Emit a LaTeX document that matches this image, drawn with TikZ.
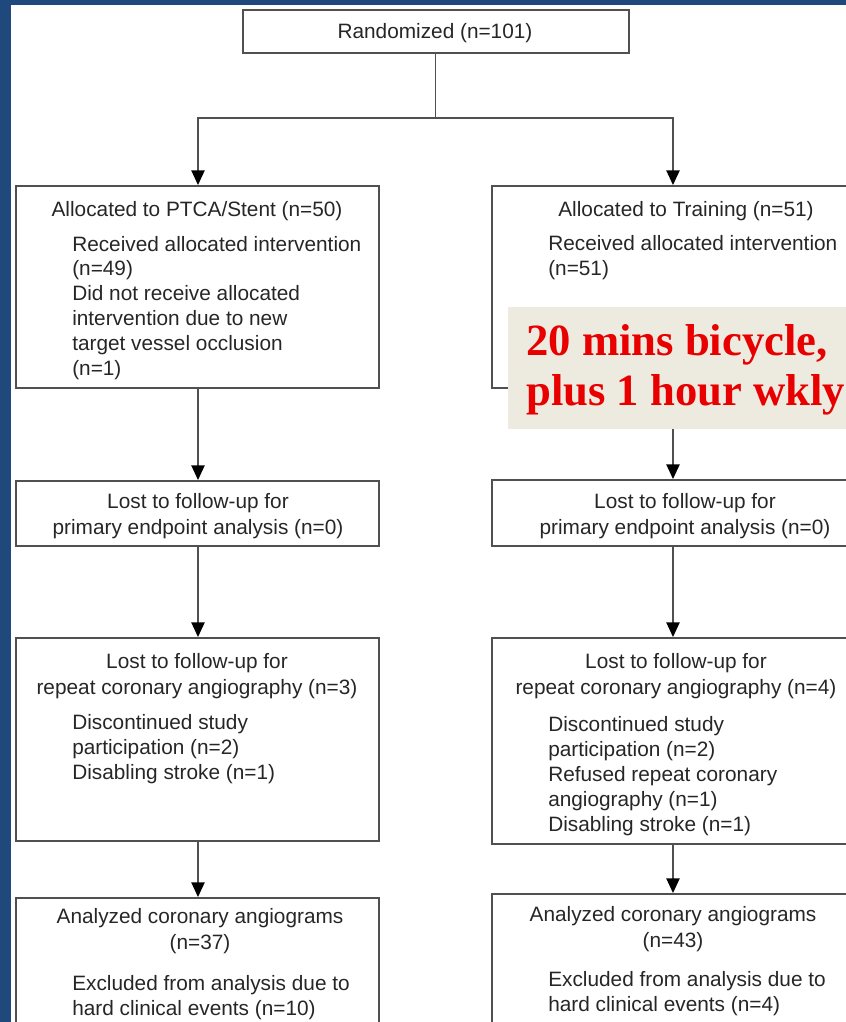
\documentclass[tikz,border=0pt]{standalone}
\usepackage{fontspec}
\setmainfont{Liberation Sans}
\newfontfamily\notefont{Liberation Serif}
\usetikzlibrary{arrows.meta}
\definecolor{frameblue}{RGB}{31,73,125}
\definecolor{boxgray}{RGB}{80,80,80}
\definecolor{notebg}{RGB}{237,234,224}
\definecolor{notered}{RGB}{232,0,0}

\begin{document}
\begin{tikzpicture}[x=0.75pt, y=-0.75pt,
  box/.style={draw=boxgray, line width=1.2pt, inner sep=0pt, anchor=north west},
  head/.style={inner sep=0pt, font=\fontsize{15.6}{19.5}\selectfont, text=black!85, align=center, anchor=base},
  item/.style={inner sep=0pt, font=\fontsize{15.6}{18.6}\selectfont, text=black!85, align=left, anchor=base west},
  link/.style={draw=boxgray, line width=1pt},
  arr/.style={link, -{Triangle[length=11pt,width=10pt,color=black]}}]
\useasboundingbox (0,0) rectangle (846,1022);
\clip (0,0) rectangle (846,1022);
%%%%% Frame %%%%%
\fill[frameblue] (0,0) rectangle (11,1022);
\fill[frameblue] (0,0) rectangle (846,5);
\coordinate (lcol) at (198,0);
\coordinate (rcol) at (673,0);
%%%%% Boxes %%%%%
\node[box, minimum width=289.5pt, minimum height=32.25pt] (top) at (242,9) {};
\node[box, minimum width=272.25pt, minimum height=151.5pt] (l1) at (15,185) {};
\node[box, minimum width=272.25pt, minimum height=48.75pt] (l2) at (15,480) {};
\node[box, minimum width=272.25pt, minimum height=152.25pt] (l3) at (15,637) {};
\node[box, minimum width=272.25pt, minimum height=105pt] (l4) at (15,897) {};
\node[box, minimum width=291.75pt, minimum height=151.5pt] (r1) at (491,185) {};
\node[box, minimum width=291.75pt, minimum height=49.5pt] (r2) at (491,479) {};
\node[box, minimum width=291.75pt, minimum height=154.5pt] (r3) at (491,637) {};
\node[box, minimum width=291.75pt, minimum height=105pt] (r4) at (491,893) {};
%%%%% Texts (base = last line) %%%%%
\node[head] (topt) at (435,38) {Randomized (n=101)};
\node[head] (l1t) at (197,216) {Allocated to PTCA/Stent (n=50)};
\node[item] (l1i) at (72,375) {Received allocated intervention\\(n=49)\\Did not receive allocated\\intervention due to new\\target vessel occlusion\\(n=1)};
\node[head] (r1t) at (686,216) {Allocated to Training (n=51)};
\node[item] (r1i) at (548,275) {Received allocated intervention\\(n=51)};
\node[head] (l2t) at (198,534) {Lost to follow-up for\\primary endpoint analysis (n=0)};
\node[head] (r2t) at (685,534) {Lost to follow-up for\\primary endpoint analysis (n=0)};
\node[head] (l3t) at (197,694) {Lost to follow-up for\\repeat coronary angiography (n=3)};
\node[item] (l3i) at (72,779) {Discontinued study\\participation (n=2)\\Disabling stroke (n=1)};
\node[head] (r3t) at (676,694) {Lost to follow-up for\\repeat coronary angiography (n=4)};
\node[item] (r3i) at (548,831) {Discontinued study\\participation (n=2)\\Refused repeat coronary\\angiography (n=1)\\Disabling stroke (n=1)};
\node[head] (l4t) at (200,949) {Analyzed coronary angiograms\\(n=37)};
\node[item] (l4i) at (72,1015) {Excluded from analysis due to\\hard clinical events (n=10)};
\node[head] (r4t) at (673,947) {Analyzed coronary angiograms\\(n=43)};
\node[item] (r4i) at (548,1011) {Excluded from analysis due to\\hard clinical events (n=4)};
%%%%% Arrows %%%%%
\coordinate (split) at (435,118);
\draw[link] (top.south) -- (top.south |- split);
\draw[arr] (top.south |- split) -| (l1.north -| lcol);
\draw[arr] (top.south |- split) -| (r1.north -| rcol);
\foreach \a/\b/\c in {l1/l2/lcol, l2/l3/lcol, l3/l4/lcol, r1/r2/rcol, r2/r3/rcol, r3/r4/rcol}
  \draw[arr] (\a.south -| \c) -- (\b.north -| \c);
%%%%% Note %%%%%
\node[box, draw=none, fill=notebg, minimum width=270pt, minimum height=91.5pt] (note) at (507,306) {};
\node[inner sep=0pt, anchor=base west, align=left, text=notered,
  font=\notefont\bfseries\fontsize{33.5}{37.5}\selectfont] (notet) at (526,405) {20 mins bicycle,\\plus 1 hour wkly};
\end{tikzpicture}
\end{document}
